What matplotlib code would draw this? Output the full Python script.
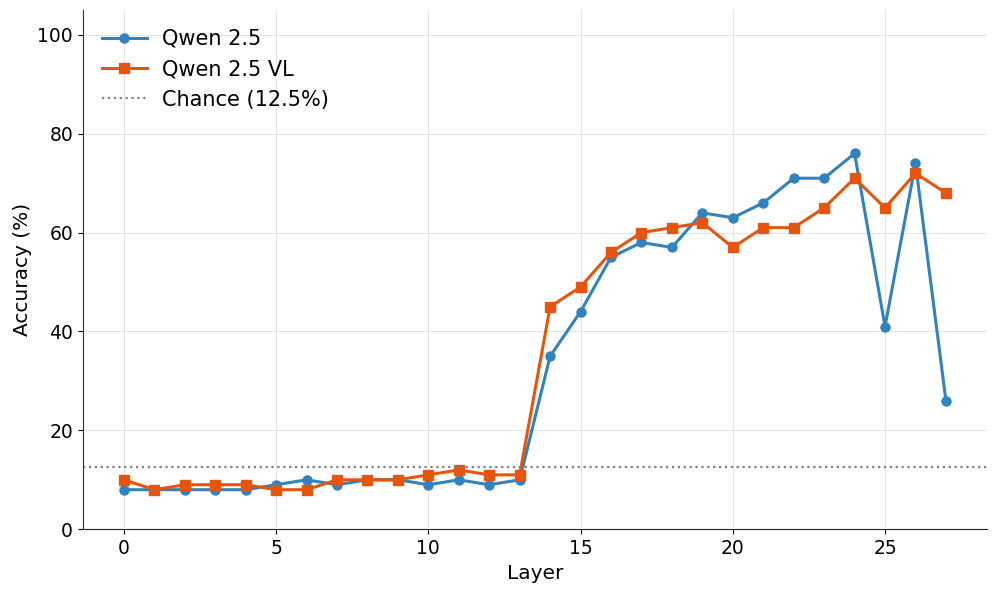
import numpy as np
import matplotlib
matplotlib.use('Agg')
import matplotlib.pyplot as plt

layers = np.arange(28)
qwen = [8, 8, 8, 8, 8, 9, 10, 9, 10, 10, 9, 10, 9, 10,
        35, 44, 55, 58, 57, 64, 63, 66, 71, 71, 76, 41, 74, 26]
qwen_vl = [10, 8, 9, 9, 9, 8, 8, 10, 10, 10, 11, 12, 11, 11,
           45, 49, 56, 60, 61, 62, 57, 61, 61, 65, 71, 65, 72, 68]
chance = 12.5

fig = plt.figure(figsize=(9.97, 5.94), dpi=100)
ax = fig.add_axes([0.083, 0.109, 0.907, 0.874])

ax.plot(layers, qwen, '-o', color='#3182bd', lw=2.2, ms=6.5, label='Qwen 2.5')
ax.plot(layers, qwen_vl, '-s', color='#e6550d', lw=2.2, ms=6.5, label='Qwen 2.5 VL')
ax.axhline(chance, color='gray', ls=':', lw=1.6, label='Chance (12.5%)')

ax.set_ylim(0, 105)
ax.set_yticks([0, 20, 40, 60, 80, 100])
ax.set_xticks([0, 5, 10, 15, 20, 25])
ax.grid(True, color='#dddddd', lw=0.8, alpha=0.8)
ax.set_axisbelow(True)
for s in ['top', 'right']:
    ax.spines[s].set_visible(False)
ax.spines['left'].set_color('#333333')
ax.spines['bottom'].set_color('#222222')
ax.tick_params(labelsize=13.5)
ax.set_xlabel('Layer', fontsize=14.5)
ax.set_ylabel('Accuracy (%)', fontsize=14.5)
ax.legend(loc='upper left', fontsize=15, frameon=False,
          handlelength=2.2, handletextpad=0.7)

fig.savefig('out.png', dpi=100)
